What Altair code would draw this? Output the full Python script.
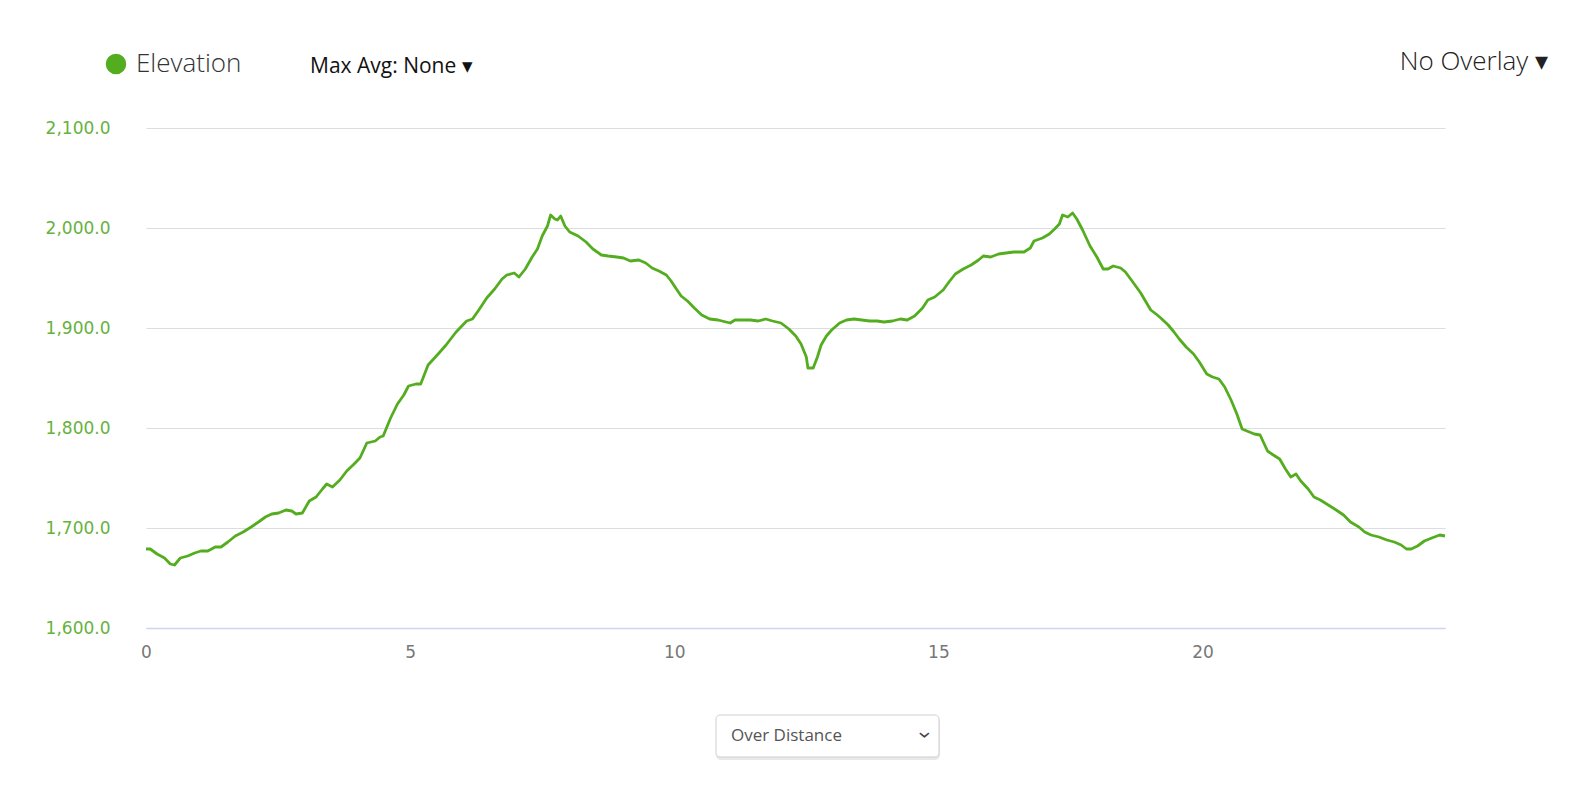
import altair as alt
import pandas as pd

# distance (km) and elevation (m)
distance_km = [
    0.00, 0.08, 0.21, 0.35, 0.46, 0.54, 0.65, 0.79, 0.92, 1.04, 1.17, 1.31, 1.42, 1.55, 1.69, 1.84,
    1.99, 2.13, 2.26, 2.38, 2.51, 2.65, 2.76, 2.84, 2.96, 3.09, 3.22, 3.34, 3.42, 3.53, 3.67, 3.80,
    3.92, 4.05, 4.18, 4.34, 4.43, 4.49, 4.63, 4.76, 4.88, 4.97, 5.11, 5.20, 5.34, 5.53, 5.68, 5.87,
    6.07, 6.18, 6.30, 6.45, 6.60, 6.74, 6.83, 6.97, 7.06, 7.18, 7.31, 7.41, 7.50, 7.60, 7.66, 7.74,
    7.79, 7.85, 7.93, 8.02, 8.18, 8.33, 8.46, 8.62, 8.75, 8.91, 9.04, 9.17, 9.33, 9.46, 9.58, 9.71,
    9.85, 9.94, 10.04, 10.13, 10.25, 10.38, 10.52, 10.67, 10.83, 10.98, 11.06, 11.15, 11.29, 11.44,
    11.59, 11.73, 11.86, 12.02, 12.17, 12.30, 12.40, 12.50, 12.53, 12.63, 12.71, 12.78, 12.88, 12.98,
    13.13, 13.26, 13.40, 13.55, 13.70, 13.84, 13.97, 14.13, 14.28, 14.41, 14.55, 14.70, 14.80, 14.93,
    15.09, 15.20, 15.32, 15.47, 15.62, 15.76, 15.85, 15.99, 16.14, 16.28, 16.43, 16.62, 16.74, 16.81,
    16.97, 17.10, 17.20, 17.29, 17.35, 17.45, 17.54, 17.62, 17.73, 17.87, 18.00, 18.12, 18.21, 18.31,
    18.45, 18.54, 18.68, 18.83, 18.93, 19.02, 19.12, 19.21, 19.35, 19.46, 19.56, 19.69, 19.83, 19.94,
    20.08, 20.19, 20.31, 20.42, 20.54, 20.65, 20.75, 20.84, 20.98, 21.09, 21.23, 21.34, 21.46, 21.57,
    21.67, 21.77, 21.86, 22.00, 22.11, 22.23, 22.38, 22.53, 22.67, 22.80, 22.96, 23.07, 23.19, 23.34,
    23.49, 23.63, 23.76, 23.86, 23.95, 24.07, 24.20, 24.34, 24.49, 24.59,
]
elevation_m = [
    1679, 1679, 1674, 1670, 1664, 1663, 1670, 1672, 1675, 1677, 1677, 1681, 1681, 1686, 1692, 1696,
    1701, 1706, 1711, 1714, 1715, 1718, 1717, 1714, 1715, 1727, 1731, 1739, 1744, 1741, 1748, 1757,
    1763, 1770, 1785, 1787, 1791, 1792, 1810, 1824, 1833, 1842, 1844, 1844, 1863, 1874, 1883, 1896,
    1907, 1909, 1918, 1930, 1939, 1949, 1953, 1955, 1951, 1959, 1971, 1979, 1992, 2002, 2013, 2009,
    2008, 2012, 2002, 1996, 1992, 1986, 1979, 1973, 1972, 1971, 1970, 1967, 1968, 1965, 1960, 1957,
    1953, 1947, 1939, 1932, 1927, 1920, 1913, 1909, 1908, 1906, 1905, 1908, 1908, 1908,
    1907, 1909, 1907, 1905, 1899, 1892, 1884, 1871, 1860, 1860, 1871, 1883, 1892, 1898,
    1905, 1908, 1909, 1908, 1907, 1907, 1906, 1907, 1909, 1908, 1912, 1920, 1928, 1931,
    1938, 1946, 1954, 1959, 1963, 1968, 1972, 1971, 1974, 1975, 1976, 1976, 1980, 1987,
    1990, 1994, 1999, 2004, 2013, 2011, 2015, 2009, 1998, 1982, 1971, 1959, 1959, 1962,
    1960, 1956, 1946, 1935, 1926, 1918, 1914, 1910, 1903, 1896, 1889, 1881, 1874, 1866,
    1854, 1851, 1849, 1841, 1828, 1814, 1799, 1797, 1794, 1793, 1777, 1773, 1769, 1759,
    1751, 1754, 1747, 1739, 1731, 1728, 1723, 1718, 1713, 1706, 1701, 1696, 1693, 1691,
    1688, 1686, 1683, 1679, 1679, 1682, 1687, 1690, 1693, 1692,
]
y_ticks = [1600, 1700, 1800, 1900, 2000, 2100]
x_ticks = [0, 5, 10, 15, 20]
legend_label = ["Elevation"]
max_avg_label = ["Max Avg: None \u25BE"]
overlay_label = ["No Overlay \u25BE"]
select_label = ["Over Distance"]

GREEN = "#53ad1f"
LABEL_GREEN = "#66b23e"
FONT = "Open Sans"
AXIS_FONT = "DejaVu Sans"

df = pd.DataFrame({"distance": distance_km, "elevation": elevation_m})

line = alt.Chart(df).mark_line(color=GREEN, strokeWidth=2.8, strokeJoin="round").encode(
    x=alt.X(
        "distance:Q",
        scale=alt.Scale(domain=[0, 24.59], nice=False, zero=False),
        axis=alt.Axis(
            values=x_ticks, title=None, grid=False, ticks=False,
            domain=True, domainColor="#ccd6eb", domainWidth=1.5,
            labelColor="#777777", labelFont=AXIS_FONT, labelFontSize=17, labelPadding=16,
            labelFlush=False,
        ),
    ),
    y=alt.Y(
        "elevation:Q",
        scale=alt.Scale(domain=[1600, 2100], nice=False, zero=False),
        axis=alt.Axis(
            values=y_ticks, format=",.1f", title=None, grid=True, gridColor="#dcdde3",
            gridWidth=1, ticks=False, domain=False,
            labelColor=LABEL_GREEN, labelFont=AXIS_FONT, labelFontSize=17, labelPadding=36,
        ),
    ),
)

def text_layer(values, x, y, size, color, weight="normal", align="left"):
    return alt.Chart(pd.DataFrame({"t": values})).mark_text(
        font=FONT, fontSize=size, color=color, fontWeight=weight, align=align, baseline="middle"
    ).encode(text="t:N", x=alt.value(x), y=alt.value(y))

dot = alt.Chart(pd.DataFrame({"t": legend_label})).mark_point(
    filled=True, color=GREEN, opacity=1, size=420, shape="circle"
).encode(x=alt.value(-30), y=alt.value(-64))

legend_text = text_layer(legend_label, -10, -64, 26, "#333333", weight=300)
max_avg = text_layer(max_avg_label, 164, -61, 21, "#111111")
overlay = text_layer(overlay_label, 1402, -66, 26, "#222222", weight=300, align="right")

shadow = alt.Chart(pd.DataFrame({"t": select_label})).mark_rect(
    fill="#e9e9e9", cornerRadius=5
).encode(x=alt.value(570), x2=alt.value(794), y=alt.value(589), y2=alt.value(632))
box = alt.Chart(pd.DataFrame({"t": select_label})).mark_rect(
    fill="white", stroke="#cfcfcf", strokeWidth=1, cornerRadius=4
).encode(x=alt.value(570), x2=alt.value(793), y=alt.value(587), y2=alt.value(629))
select_text = text_layer(select_label, 585, 608, 17, "#555555")
chevron = alt.Chart(pd.DataFrame({"t": ["\u203A"]})).mark_text(
    font=FONT, fontSize=24, color="#444444", fontWeight="normal", angle=90, align="center",
    baseline="middle"
).encode(text="t:N", x=alt.value(779), y=alt.value(607))

chart = alt.layer(
    line, dot, legend_text, max_avg, overlay, shadow, box, select_text, chevron
).properties(
    width=1299,
    height=500,
    background="white",
    padding={"left": 138, "top": 120, "right": 137, "bottom": 157},
    autosize=alt.AutoSizeParams(type="none"),
).configure_view(stroke="transparent", strokeWidth=0)

chart.save("out.html", embed_options={"renderer": "svg", "actions": False})
